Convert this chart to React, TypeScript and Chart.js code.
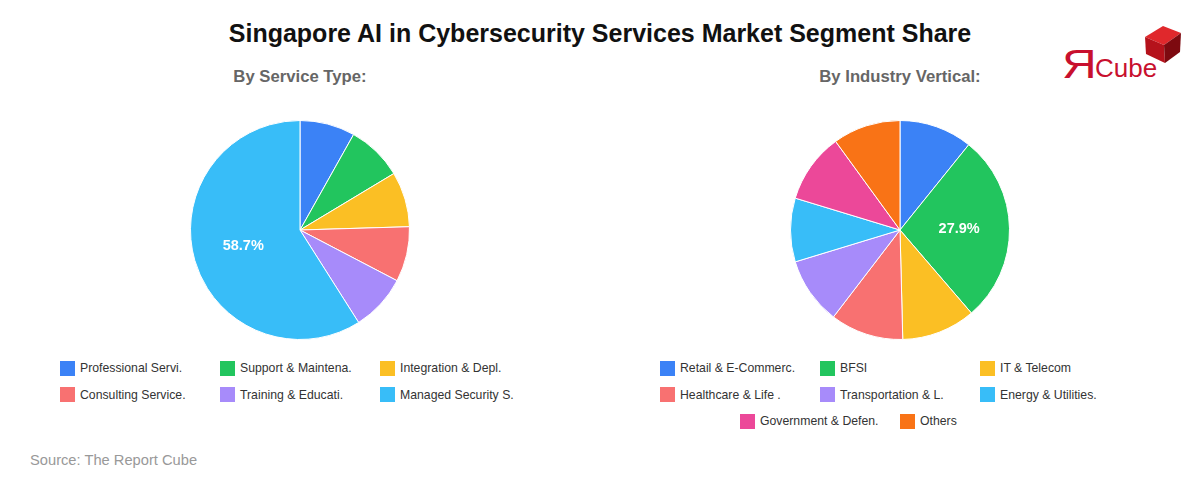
import React, { useEffect, useRef } from "react";
import { Chart, registerables } from "chart.js";

Chart.register(...registerables);

const FONT = "'Liberation Sans', Arial, Helvetica, sans-serif";

const TITLE = "Singapore AI in Cybersecurity Services Market Segment Share";
const SOURCE = "Source: The Report Cube";

const serviceTitle = "By Service Type:";
const serviceLabels = [
  "Professional Servi.",
  "Support & Maintena.",
  "Integration & Depl.",
  "Consulting Service.",
  "Training & Educati.",
  "Managed Security S.",
];
const serviceValues = [8.1, 8.2, 8.1, 8.1, 8.3, 58.7];
const serviceColors = ["#3b82f6", "#22c55e", "#fbbf24", "#f87171", "#a78bfa", "#38bdf8"];

const industryTitle = "By Industry Vertical:";
const industryLabels = [
  "Retail & E-Commerc.",
  "BFSI",
  "IT & Telecom",
  "Healthcare & Life .",
  "Transportation & L.",
  "Energy & Utilities.",
  "Government & Defen.",
  "Others",
];
const industryValues = [10.8, 27.9, 10.9, 10.8, 9.9, 9.4, 10.3, 10.0];
const industryColors = [
  "#3b82f6",
  "#22c55e",
  "#fbbf24",
  "#f87171",
  "#a78bfa",
  "#38bdf8",
  "#ec4899",
  "#f97316",
];

const pctLabelPlugin = {
  id: "pctLabel",
  afterDatasetsDraw(chart: any) {
    const ctx = chart.ctx;
    const meta = chart.getDatasetMeta(0);
    const data = chart.data.datasets[0].data as number[];
    ctx.save();
    ctx.fillStyle = "#ffffff";
    ctx.font = `bold 14.5px ${FONT}`;
    ctx.textAlign = "center";
    ctx.textBaseline = "middle";
    meta.data.forEach((arc: any, i: number) => {
      if (data[i] < 20) return;
      const mid = (arc.startAngle + arc.endAngle) / 2;
      const r = arc.outerRadius * 0.54;
      const x = arc.x + Math.cos(mid) * r;
      const y = arc.y + Math.sin(mid) * r;
      ctx.fillText(data[i].toFixed(1) + "%", x, y);
    });
    ctx.restore();
  },
};

function PieChart({ labels, values, colors }: { labels: string[]; values: number[]; colors: string[] }) {
  const ref = useRef<HTMLCanvasElement | null>(null);
  useEffect(() => {
    if (!ref.current) return;
    const chart = new Chart(ref.current, {
      type: "pie",
      data: {
        labels,
        datasets: [
          {
            data: values,
            backgroundColor: colors,
            borderColor: "#ffffff",
            borderWidth: 1,
          },
        ],
      },
      options: {
        responsive: false,
        animation: false,
        layout: { padding: 10 },
        plugins: {
          legend: { display: false },
          tooltip: { enabled: false },
        },
      },
      plugins: [pctLabelPlugin],
    });
    return () => chart.destroy();
  }, []);
  return <canvas ref={ref} width={240} height={240} style={{ width: 240, height: 240, display: "block" }} />;
}

function Legend({ labels, colors, left }: { labels: string[]; colors: string[]; left: number }) {
  return (
    <div
      style={{
        position: "absolute",
        left,
        top: 355,
        width: 480,
        display: "flex",
        flexWrap: "wrap",
        justifyContent: "center",
      }}
    >
      {labels.map((l, i) => (
        <div
          key={i}
          style={{
            width: 160,
            height: 26.5,
            display: "flex",
            alignItems: "center",
            fontSize: 12.25,
            color: "#333",
            fontFamily: FONT,
          }}
        >
          <span style={{ width: 15, height: 15, background: colors[i], marginRight: 5, flexShrink: 0 }} />
          <span style={{ whiteSpace: "nowrap" }}>{l}</span>
        </div>
      ))}
    </div>
  );
}

function Logo() {
  return (
    <svg
      style={{ position: "absolute", left: 1055, top: 18, overflow: "visible" }}
      width={140}
      height={72}
      viewBox="0 0 140 72"
    >
      <text
        x={0}
        y={0}
        fill="#c8102e"
        fontFamily={FONT}
        fontSize={40}
        transform="translate(7,60) scale(1.2,1)"
      >
        Я
      </text>
      <text x={40} y={59} fill="#c8102e" fontFamily={FONT} fontSize={26}>
        Cube
      </text>
      <polygon points="90,19 108,8 126,15 109,27" fill="#e0282c" />
      <polygon points="90,19 109,27 110,45 91,36" fill="#b5121b" />
      <polygon points="109,27 126,15 125,34 110,45" fill="#7d0a10" />
    </svg>
  );
}

export default function App() {
  return (
    <div
      style={{
        position: "absolute",
        left: 0,
        top: 0,
        width: 1200,
        height: 480,
        background: "#ffffff",
        fontFamily: FONT,
        overflow: "hidden",
      }}
    >
      <div
        style={{
          position: "absolute",
          left: 0,
          top: 17,
          width: 1200,
          textAlign: "center",
          fontSize: 25,
          fontWeight: "bold",
          color: "#111",
          lineHeight: "32px",
        }}
      >
        {TITLE}
      </div>
      <Logo />
      <div
        style={{
          position: "absolute",
          left: 0,
          top: 66,
          width: 600,
          textAlign: "center",
          fontSize: 16.7,
          fontWeight: "bold",
          color: "#666",
          lineHeight: "22px",
        }}
      >
        {serviceTitle}
      </div>
      <div
        style={{
          position: "absolute",
          left: 600,
          top: 66,
          width: 600,
          textAlign: "center",
          fontSize: 16.7,
          fontWeight: "bold",
          color: "#666",
          lineHeight: "22px",
        }}
      >
        {industryTitle}
      </div>
      <div style={{ position: "absolute", left: 180, top: 110 }}>
        <PieChart labels={serviceLabels} values={serviceValues} colors={serviceColors} />
      </div>
      <div style={{ position: "absolute", left: 780, top: 110 }}>
        <PieChart labels={industryLabels} values={industryValues} colors={industryColors} />
      </div>
      <Legend labels={serviceLabels} colors={serviceColors} left={60} />
      <Legend labels={industryLabels} colors={industryColors} left={660} />
      <div
        style={{
          position: "absolute",
          left: 30,
          top: 450,
          fontSize: 14.7,
          color: "#999",
          lineHeight: "20px",
        }}
      >
        {SOURCE}
      </div>
    </div>
  );
}
